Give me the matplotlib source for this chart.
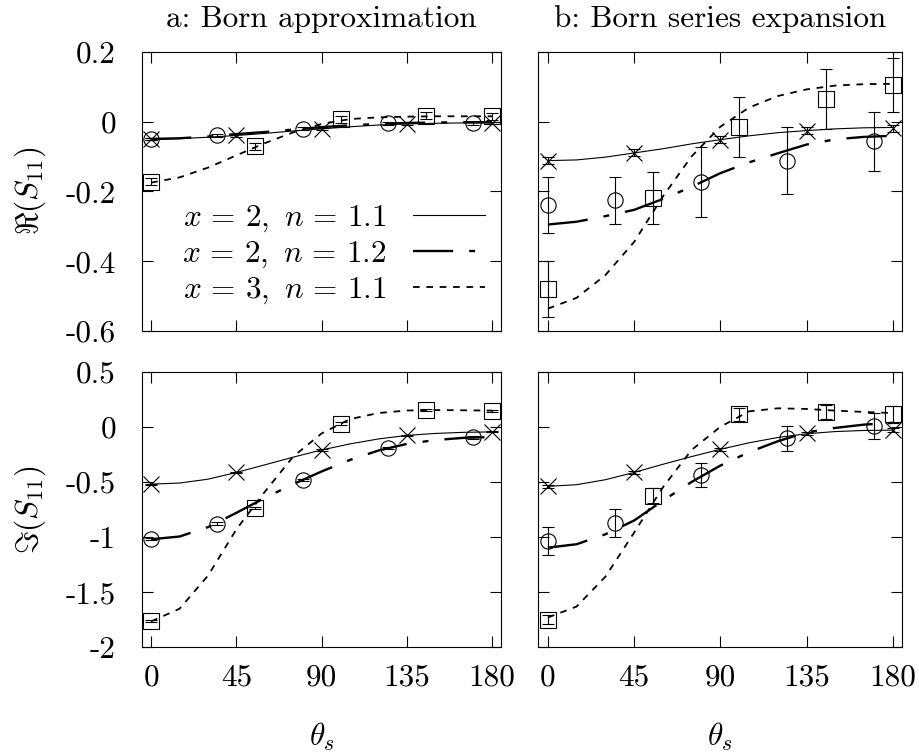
import numpy as np
import matplotlib
matplotlib.use("Agg")
import matplotlib.pyplot as plt

plt.rcParams['font.family'] = 'serif'
plt.rcParams['font.serif'] = ['cmr10']
plt.rcParams['mathtext.fontset'] = 'cm'
plt.rcParams['axes.unicode_minus'] = False
plt.rcParams['axes.formatter.use_mathtext'] = True

FS = 22.5

# angle grid of the curves and angles of the sampled points
theta = [0, 15, 30, 45, 60, 75, 90, 105, 120, 135, 150, 165, 180]
th_x = [0, 45, 90, 135, 180]
th_o = [0, 35, 80, 125, 170]
th_s = [0, 55, 100, 145, 180]

labels = [r'$x\,=\,2,\ n\,=\,1.1$', r'$x\,=\,2,\ n\,=\,1.2$', r'$x\,=\,3,\ n\,=\,1.1$']

# a: Born approximation, real part
re_a_21 = [-0.051, -0.049, -0.045, -0.040, -0.034, -0.027, -0.021, -0.015, -0.010, -0.007, -0.005, -0.004, -0.004]
re_a_22 = [-0.050, -0.048, -0.043, -0.036, -0.030, -0.023, -0.016, -0.011, -0.007, -0.004, -0.003, -0.002, -0.002]
re_a_31 = [-0.175, -0.160, -0.132, -0.097, -0.062, -0.031, -0.007, 0.007, 0.012, 0.014, 0.015, 0.015, 0.015]
re_a_x = [-0.051, -0.040, -0.021, -0.007, -0.004]
re_a_xe = [0.003, 0.003, 0.003, 0.003, 0.003]
re_a_o = [-0.050, -0.040, -0.021, -0.005, -0.005]
re_a_oe = [0.004, 0.004, 0.004, 0.004, 0.004]
re_a_s = [-0.173, -0.071, 0.006, 0.017, 0.015]
re_a_se = [0.01, 0.01, 0.01, 0.01, 0.01]

# b: Born series expansion, real part
re_b_21 = [-0.112, -0.110, -0.102, -0.090, -0.078, -0.064, -0.052, -0.041, -0.032, -0.026, -0.021, -0.018, -0.017]
re_b_22 = [-0.295, -0.287, -0.271, -0.253, -0.222, -0.187, -0.148, -0.117, -0.091, -0.066, -0.051, -0.044, -0.041]
re_b_31 = [-0.536, -0.505, -0.440, -0.345, -0.215, -0.100, -0.015, 0.040, 0.073, 0.092, 0.103, 0.107, 0.108]
re_b_x = [-0.112, -0.090, -0.052, -0.026, -0.019]
re_b_xe = [0.01, 0.01, 0.01, 0.01, 0.01]
re_b_o = [-0.240, -0.226, -0.174, -0.112, -0.057]
re_b_oe = [0.080, 0.067, 0.100, 0.097, 0.085]
re_b_s = [-0.479, -0.220, -0.016, 0.064, 0.105]
re_b_se = [0.080, 0.074, 0.086, 0.086, 0.078]

# a: Born approximation, imaginary part
im_a_21 = [-0.52, -0.51, -0.475, -0.414, -0.345, -0.275, -0.21, -0.155, -0.11, -0.078, -0.060, -0.050, -0.046]
im_a_22 = [-1.02, -0.995, -0.91, -0.78, -0.645, -0.52, -0.405, -0.30, -0.215, -0.155, -0.12, -0.10, -0.092]
im_a_31 = [-1.765, -1.65, -1.35, -0.93, -0.59, -0.27, -0.06, 0.07, 0.125, 0.148, 0.152, 0.150, 0.147]
im_a_x = [-0.52, -0.414, -0.21, -0.075, -0.045]
im_a_xe = [0.005, 0.005, 0.005, 0.005, 0.005]
im_a_o = [-1.02, -0.877, -0.486, -0.195, -0.096]
im_a_oe = [0.01, 0.01, 0.01, 0.01, 0.01]
im_a_s = [-1.763, -0.736, 0.03, 0.156, 0.144]
im_a_se = [0.01, 0.01, 0.01, 0.01, 0.01]

# b: Born series expansion, imaginary part
im_b_21 = [-0.54, -0.525, -0.48, -0.414, -0.34, -0.27, -0.204, -0.145, -0.097, -0.063, -0.043, -0.033, -0.03]
im_b_22 = [-1.096, -1.065, -0.975, -0.85, -0.67, -0.50, -0.352, -0.23, -0.131, -0.05, -0.01, 0.02, 0.036]
im_b_31 = [-1.73, -1.63, -1.36, -0.96, -0.55, -0.21, 0.0, 0.14, 0.168, 0.162, 0.147, 0.135, 0.125]
im_b_x = [-0.54, -0.414, -0.204, -0.06, -0.03]
im_b_xe = [0.015, 0.015, 0.015, 0.015, 0.015]
im_b_o = [-1.036, -0.871, -0.435, -0.105, 0.009]
im_b_oe = [0.125, 0.13, 0.11, 0.11, 0.12]
im_b_s = [-1.748, -0.625, 0.114, 0.135, 0.114]
im_b_se = [0.04, 0.07, 0.06, 0.06, 0.077]

fig = plt.figure(figsize=(9.2, 7.56), dpi=100)
W, H = 920.0, 756.0
def box(l, t, r, b):
    return [l / W, 1 - b / H, (r - l) / W, (b - t) / H]

ax_ra = fig.add_axes(box(141.7, 51.7, 501.5, 331))
ax_rb = fig.add_axes(box(538.3, 51.7, 902.3, 331))
ax_ia = fig.add_axes(box(141.7, 371.7, 501.5, 647.3))
ax_ib = fig.add_axes(box(538.3, 371.7, 902.3, 647.3))

def draw(ax, c21, c22, c31, px, pxe, po, poe, ps, pse):
    ax.plot(theta, c21, color='k', lw=0.8, label=labels[0])
    ax.plot(theta, c22, color='k', lw=1.7, dashes=(17, 6.8, 2.5, 6.8), label=labels[1])
    ax.plot(theta, c31, color='k', lw=1.3, dashes=(3.7, 3.7), label=labels[2])
    kw = dict(ms=11, mew=0.8, mfc='none', mec='k', ecolor='k', elinewidth=0.8,
              capsize=4.6, capthick=0.8, ls='none')
    ax.errorbar(th_x, px, yerr=pxe, fmt='x', **kw)
    ax.errorbar(th_o, po, yerr=poe, fmt='o', **kw)
    ax.errorbar(th_s, ps, yerr=pse, fmt='s', **kw)
    ax.set_xlim(-5, 185)
    ax.set_xticks([0, 45, 90, 135, 180])
    ax.set_xticklabels(['0', '45', '90', '135', '180'])
    ax.tick_params(direction='in', top=True, right=True, length=8, width=0.8,
                   labelsize=FS, colors='k')
    ax.tick_params(axis='y', pad=18.5)
    ax.tick_params(axis='x', pad=12)
    for s in ax.spines.values():
        s.set_linewidth(0.8)

draw(ax_ra, re_a_21, re_a_22, re_a_31, re_a_x, re_a_xe, re_a_o, re_a_oe, re_a_s, re_a_se)
draw(ax_rb, re_b_21, re_b_22, re_b_31, re_b_x, re_b_xe, re_b_o, re_b_oe, re_b_s, re_b_se)
draw(ax_ia, im_a_21, im_a_22, im_a_31, im_a_x, im_a_xe, im_a_o, im_a_oe, im_a_s, im_a_se)
draw(ax_ib, im_b_21, im_b_22, im_b_31, im_b_x, im_b_xe, im_b_o, im_b_oe, im_b_s, im_b_se)

for ax in (ax_ra, ax_rb):
    ax.set_ylim(-0.6, 0.2)
    ax.set_yticks([-0.6, -0.4, -0.2, 0, 0.2])
    ax.set_yticklabels(['-0.6', '-0.4', '-0.2', '0', '0.2'])
    ax.tick_params(labelbottom=False)
for ax in (ax_ia, ax_ib):
    ax.set_ylim(-2, 0.5)
    ax.set_yticks([-2, -1.5, -1, -0.5, 0, 0.5])
    ax.set_yticklabels(['-2', '-1.5', '-1', '-0.5', '0', '0.5'])
for ax in (ax_rb, ax_ib):
    ax.tick_params(labelleft=False)

ax_ra.legend(loc='lower right', bbox_to_anchor=(0.955, 0.09), frameon=False,
             markerfirst=False, fontsize=FS, handlelength=2.3, handletextpad=0.87,
             labelspacing=0.17, borderpad=0, borderaxespad=0)

fig.text(321.6 / W, 1 - 19 / H, 'a: Born approximation', ha='center', va='center', fontsize=FS)
fig.text(720.3 / W, 1 - 19 / H, 'b: Born series expansion', ha='center', va='center', fontsize=FS)
fig.text(30 / W, 1 - 191 / H, r'$\Re(S_{11})$', rotation=90, ha='center', va='center', fontsize=FS)
fig.text(30 / W, 1 - 510 / H, r'$\Im(S_{11})$', rotation=90, ha='center', va='center', fontsize=FS)
fig.text(321.6 / W, 1 - 746 / H, r'$\theta_s$', ha='center', va='baseline', fontsize=FS)
fig.text(720.3 / W, 1 - 746 / H, r'$\theta_s$', ha='center', va='baseline', fontsize=FS)

fig.savefig('out.png', dpi=100)
